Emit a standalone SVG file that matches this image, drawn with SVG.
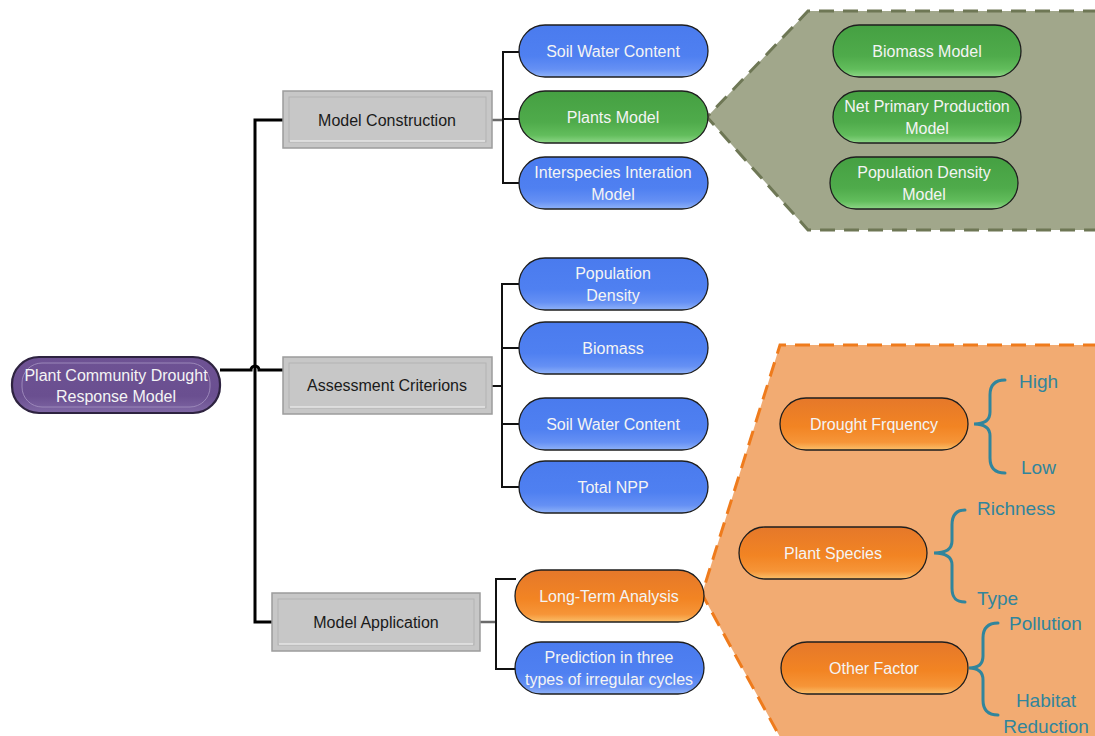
<svg xmlns="http://www.w3.org/2000/svg" width="1095" height="736" viewBox="0 0 1095 736">
  <defs>
    <linearGradient id="gBlue" x1="0" y1="0" x2="0" y2="1">
      <stop offset="0" stop-color="#4a7bee"/>
      <stop offset="0.6" stop-color="#4f80f1"/>
      <stop offset="0.85" stop-color="#6590f4"/>
      <stop offset="1" stop-color="#8fb2f8"/>
    </linearGradient>
    <linearGradient id="gGreen" x1="0" y1="0" x2="0" y2="1">
      <stop offset="0" stop-color="#45a042"/>
      <stop offset="0.6" stop-color="#4fab4b"/>
      <stop offset="0.85" stop-color="#62bd5c"/>
      <stop offset="1" stop-color="#8ed787"/>
    </linearGradient>
    <linearGradient id="gOrange" x1="0" y1="0" x2="0" y2="1">
      <stop offset="0" stop-color="#e5782a"/>
      <stop offset="0.55" stop-color="#f28423"/>
      <stop offset="0.85" stop-color="#f69538"/>
      <stop offset="1" stop-color="#fbc06a"/>
    </linearGradient>
    <linearGradient id="gPurple" x1="0" y1="0" x2="0" y2="1">
      <stop offset="0" stop-color="#6e5294"/>
      <stop offset="0.7" stop-color="#6a4f90"/>
      <stop offset="1" stop-color="#8068a5"/>
    </linearGradient>
    <style>
      .pill { stroke: #1e1e1e; stroke-width: 1.3; }
      .blue { fill: url(#gBlue); }
      .green { fill: url(#gGreen); }
      .orange { fill: url(#gOrange); }
      .lbl { font-family: "Liberation Sans", Arial, sans-serif; font-size: 16px; fill: #f4f4f4; text-anchor: middle; dominant-baseline: central; }
      .dark { fill: #1a1a1a; }
      .gbox { fill: #c7c7c7; stroke: #9c9c9c; stroke-width: 1.5; }
      .gin { fill: none; stroke: #dedede; stroke-width: 1.5; }
      .gin2 { fill: none; stroke: #b3b3b3; stroke-width: 1; }
      .conn { fill: none; stroke: #111; stroke-width: 2; }
      .trunk { fill: none; stroke: #000; stroke-width: 3; }
      .stub { fill: none; stroke: #6a6a6a; stroke-width: 2.5; }
      .brace { fill: none; stroke: #31859c; stroke-width: 3; stroke-linecap: round; }
      .blbl { font-family: "Liberation Sans", Arial, sans-serif; font-size: 19px; fill: #31859c; dominant-baseline: central; }
    </style>
  </defs>

  <g id="callout-green">
    <polygon points="707,117 808,11 1096,11 1096,230 808,230" fill="#a1a78b"/>
    <polyline points="1098,11 808,11 707,117 808,230 1098,230" fill="none" stroke="#6e7755" stroke-width="3" stroke-dasharray="15,9"/>
  </g>
  <g id="callout-orange">
    <polygon points="702,594 780,345 1096,345 1096,737 780,737" fill="#f2ab72"/>
    <polyline points="1098,345 780,345 702,594 781,739" fill="none" stroke="#ef7b1c" stroke-width="3" stroke-dasharray="15,9"/>
  </g>

  <g id="connectors">
    <path class="trunk" d="M283,120 H255 V622 H272"/>
    <path class="trunk" d="M220,370 H251 A4,4 0 0 1 259,370 H283"/>
    <path class="stub" d="M492,120 H503"/>
    <path class="conn" d="M519,52 H503 V183 H519 M503,119 H519"/>
    <path class="conn" d="M492,386 H502"/>
    <path class="conn" d="M519,284 H502 V487 H519 M502,348 H519 M502,424 H519"/>
    <path class="stub" d="M480,622 H496" stroke="#9a9a9a"/>
    <path class="conn" d="M516,579 H496 V669 H516"/>
  </g>

  <g id="root">
    <rect x="12" y="357" width="208" height="56" rx="27" fill="url(#gPurple)" stroke="#2e2340" stroke-width="2.2"/>
    <rect x="22" y="363" width="188" height="44" rx="20" fill="none" stroke="#9b87b9" stroke-width="1"/>
    <text class="lbl" x="116" y="375">Plant Community Drought</text>
    <text class="lbl" x="116" y="396">Response Model</text>
  </g>

  <g id="model-construction">
    <rect class="gbox" x="283" y="91" width="209" height="57"/>
    <rect class="gin2" x="289" y="97" width="197" height="45"/>
    <line x1="290" y1="141" x2="485" y2="141" stroke="#e6e6e6" stroke-width="1.5"/>
    <text class="lbl dark" x="387" y="120">Model Construction</text>
  </g>
  <g id="assessment-criterions">
    <rect class="gbox" x="283" y="357" width="209" height="57"/>
    <rect class="gin2" x="289" y="363" width="197" height="45"/>
    <line x1="290" y1="407" x2="485" y2="407" stroke="#e6e6e6" stroke-width="1.5"/>
    <text class="lbl dark" x="387" y="385">Assessment Criterions</text>
  </g>
  <g id="model-application">
    <rect class="gbox" x="272" y="593" width="208" height="58"/>
    <rect class="gin2" x="278" y="599" width="196" height="46"/>
    <line x1="279" y1="644" x2="473" y2="644" stroke="#e6e6e6" stroke-width="1.5"/>
    <text class="lbl dark" x="376" y="622">Model Application</text>
  </g>

  <g id="soil-water-content-1">
    <rect class="pill blue" x="519" y="25" width="189" height="52" rx="26"/>
    <text class="lbl" x="613" y="51">Soil Water Content</text>
  </g>
  <g id="plants-model">
    <rect class="pill green" x="519" y="91" width="189" height="52" rx="26"/>
    <text class="lbl" x="613" y="117">Plants Model</text>
  </g>
  <g id="interspecies-model">
    <rect class="pill blue" x="519" y="157" width="189" height="52" rx="26"/>
    <text class="lbl" x="613" y="172">Interspecies Interation</text>
    <text class="lbl" x="613" y="194">Model</text>
  </g>

  <g id="biomass-model">
    <rect class="pill green" x="833" y="25" width="188" height="52" rx="26"/>
    <text class="lbl" x="927" y="51">Biomass Model</text>
  </g>
  <g id="npp-model">
    <rect class="pill green" x="833" y="91" width="188" height="52" rx="26"/>
    <text class="lbl" x="927" y="106">Net Primary Production</text>
    <text class="lbl" x="927" y="128">Model</text>
  </g>
  <g id="population-density-model">
    <rect class="pill green" x="830" y="157" width="188" height="52" rx="26"/>
    <text class="lbl" x="924" y="172">Population Density</text>
    <text class="lbl" x="924" y="194">Model</text>
  </g>

  <g id="population-density">
    <rect class="pill blue" x="519" y="258" width="189" height="52" rx="26"/>
    <text class="lbl" x="613" y="273">Population</text>
    <text class="lbl" x="613" y="295">Density</text>
  </g>
  <g id="biomass">
    <rect class="pill blue" x="519" y="322" width="189" height="52" rx="26"/>
    <text class="lbl" x="613" y="348">Biomass</text>
  </g>
  <g id="soil-water-content-2">
    <rect class="pill blue" x="519" y="398" width="189" height="52" rx="26"/>
    <text class="lbl" x="613" y="424">Soil Water Content</text>
  </g>
  <g id="total-npp">
    <rect class="pill blue" x="519" y="461" width="189" height="52" rx="26"/>
    <text class="lbl" x="613" y="487">Total NPP</text>
  </g>

  <g id="long-term-analysis">
    <rect class="pill orange" x="515" y="570" width="189" height="52" rx="26"/>
    <text class="lbl" x="609" y="596">Long-Term Analysis</text>
  </g>
  <g id="prediction">
    <rect class="pill blue" x="515" y="642" width="189" height="52" rx="26"/>
    <text class="lbl" x="609" y="657">Prediction in three</text>
    <text class="lbl" x="609" y="679">types of irregular cycles</text>
  </g>

  <g id="drought-frequency">
    <rect class="pill orange" x="780" y="398" width="188" height="52" rx="26"/>
    <text class="lbl" x="874" y="424">Drought Frquency</text>
    <path class="brace" d="M1005,380 C995,380 990,385 990,395 L990,412 C990,420 984,424 974,424 C984,424 990,428 990,436 L990,458 C990,468 995,473 1005,473"/>
    <text class="blbl" x="1019" y="381">High</text>
    <text class="blbl" x="1021" y="467">Low</text>
  </g>
  <g id="plant-species">
    <rect class="pill orange" x="739" y="527" width="188" height="52" rx="26"/>
    <text class="lbl" x="833" y="553">Plant Species</text>
    <path class="brace" d="M965,510 C956,510 952,515 952,525 L952,541 C952,549 946,553 934,553 C946,553 952,557 952,565 L952,588 C952,598 956,602 965,602"/>
    <text class="blbl" x="977" y="508">Richness</text>
    <text class="blbl" x="977" y="598">Type</text>
  </g>
  <g id="other-factor">
    <rect class="pill orange" x="781" y="642" width="187" height="52" rx="26"/>
    <text class="lbl" x="874" y="668">Other Factor</text>
    <path class="brace" d="M998,623 C988,623 983,628 983,638 L983,656 C983,664 978,668 969,668 C978,668 983,672 983,680 L983,700 C983,710 988,715 998,715"/>
    <text class="blbl" x="1009" y="623">Pollution</text>
    <text class="blbl" x="1046" y="700" text-anchor="middle">Habitat</text>
    <text class="blbl" x="1046" y="726" text-anchor="middle">Reduction</text>
  </g>
</svg>
